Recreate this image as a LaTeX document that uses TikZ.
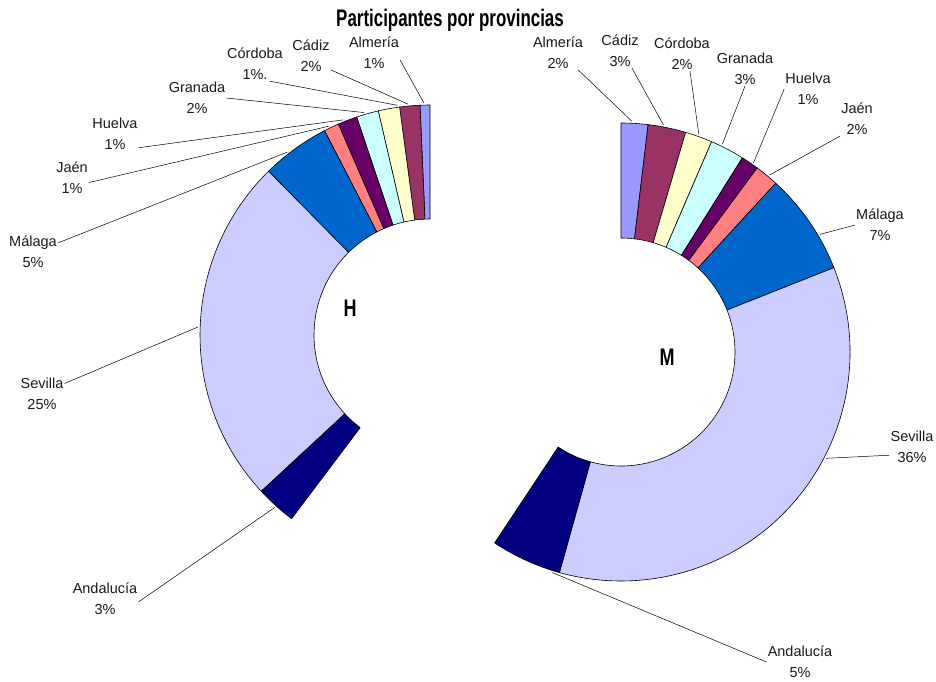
\documentclass[tikz,border=0pt]{standalone}
\usepackage{fontspec}
\setmainfont{Liberation Sans}
\usepackage{tikz}
\usetikzlibrary{calc,positioning}
\definecolor{almeria}{HTML}{9999FF}
\definecolor{cadiz}{HTML}{993366}
\definecolor{cordoba}{HTML}{FFFFCC}
\definecolor{granada}{HTML}{CCFFFF}
\definecolor{huelva}{HTML}{660066}
\definecolor{jaen}{HTML}{FF8080}
\definecolor{malaga}{HTML}{0066CC}
\definecolor{sevilla}{HTML}{CCCCFF}
\definecolor{andalucia}{HTML}{000080}
\tikzset{
	ring chart/.style={x=1pt,y=1pt,line join=round},
	slice/.style={draw=black,line width=.6pt,fill=#1},
	lbl/.style={align=center,inner sep=1pt,text=black!90,
		font=\fontsize{14.5}{21}\selectfont},
	leader/.style={draw,line width=.5pt},
	heavy/.style={inner sep=0pt,font=\fontsize{24}{24}\selectfont\bfseries},
	bbR/.store in=\bbR, bbR=230,
	bbr/.store in=\bbr, bbr=116
}
% #1 centre, #2 start angle, #3 end angle, #4 colour
\newcommand\ringpart[4]{%
	\draw[slice=#4] ($(#1)+(#2:\bbR)$) arc[start angle=#2,end angle=#3,radius=\bbR]
		-- ($(#1)+(#3:\bbr)$) arc[start angle=#3,end angle=#2,radius=\bbr] -- cycle;}

\begin{document}
\begin{tikzpicture}[ring chart]
	\useasboundingbox (0,0) rectangle (936,-681);
	\coordinate (hc) at (430,-335);
	\coordinate (mc) at (621,-352);

	\node[heavy] (title) at (450,-20) {\scalebox{.705}[1]{Participantes por provincias}};

	% H
	\foreach \a/\b/\c in {90/92.5/almeria, 92.5/97.6/cadiz, 97.6/103/cordoba,
		103/108.6/granada, 108.6/113.5/huelva, 113.5/117.3/jaen, 117.3/134.6/malaga,
		134.6/222.8/sevilla, 222.8/233/andalucia}
		\ringpart{hc}{\a}{\b}{\c};
	\node[heavy] (H) at (350,-308) {\scalebox{.75}[1]{H}};

	% M
	\begin{scope}[bbR=229,bbr=114]
	\foreach \a/\b/\c in {90/83.2/almeria, 83.2/73.6/cadiz, 73.6/66.7/cordoba,
		66.7/58/granada, 58/53.5/huelva, 53.5/47.5/jaen, 47.5/21.6/malaga,
		21.6/-105.6/sevilla, -105.6/-123.5/andalucia}
		\ringpart{mc}{\a}{\b}{\c};
	\end{scope}
	\node[heavy] (M) at (667,-357) {\scalebox{.75}[1]{M}};

	% labels
	\foreach \nm/\x/\y/\txt/\t/\anc in {
		hAlm/374/-53/{Almería\\1\%}/91.5/-15,
		hCad/311/-56/{Cádiz\\2\%}/95.5/-35,
		hCor/255/-64/{Córdoba\\1\%.}/98.1/-50,
		hGra/197/-98/{Granada\\2\%}/106.5/east,
		hHue/115/-134/{Huelva\\1\%}/112/-30,
		hJae/72/-178/{Jaén\\1\%}/115.8/-15,
		hMal/33/-252/{Málaga\\5\%}/128/20,
		hSev/42/-394/{Sevilla\\25\%}/178/25,
		hAnd/105/-599/{Andalucía\\3\%}/228/-5}
	{
		\node[lbl] (\nm) at (\x,\y) {\txt};
		\coordinate (\nm-end) at ($(hc)+(\t:232)$);
		\draw[leader] (\nm.\anc) -- (\nm-end);
	}
	\foreach \nm/\x/\y/\txt/\t/\anc in {
		mAlm/558/-53/{Almería\\2\%}/87.3/-40,
		mCad/620/-51/{Cádiz\\3\%}/79.4/-55,
		mCor/682/-54/{Córdoba\\2\%}/70.3/-65,
		mGra/745/-69/{Granada\\3\%}/64/south,
		mHue/808/-89/{Huelva\\1\%}/55/west,
		mJae/857/-119/{Jaén\\2\%}/50/south west,
		mMal/880/-225/{Málaga\\7\%}/30.6/west,
		mSev/912/-447/{Sevilla\\36\%}/-27.4/-160,
		mAnd/800/-662/{Andalucía\\5\%}/-107.3/west}
	{
		\node[lbl] (\nm) at (\x,\y) {\txt};
		\coordinate (\nm-end) at ($(mc)+(\t:231)$);
		\draw[leader] (\nm.\anc) -- (\nm-end);
	}
\end{tikzpicture}
\end{document}
